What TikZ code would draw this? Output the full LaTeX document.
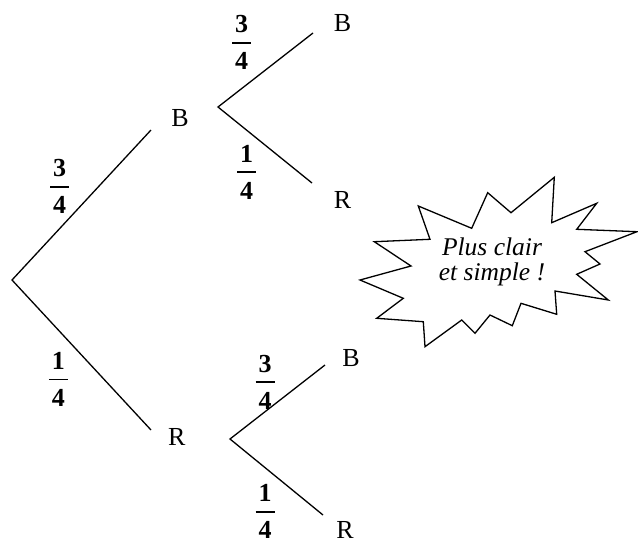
\documentclass[tikz,border=0pt]{standalone}
\usepackage{fontspec}
\setmainfont{Liberation Serif}
% bold stacked fraction: numerator, bar, denominator
\newcommand\prob[2]{\vbox{\hbox to 19pt{\hss\textbf{#1}\hss}\kern9pt\hrule height 1.8pt\kern9pt\hbox to 19pt{\hss\textbf{#2}\hss}}}
\begin{document}
\begin{tikzpicture}[x=1pt,y=-1pt,
  branch/.style={line width=1.3pt},
  outcome/.style={inner sep=0pt,font=\fontsize{26}{31}\selectfont},
  proba/.style={inner sep=0pt,font=\fontsize{26}{31}\selectfont},
  burst/.style={draw,line width=1.3pt,line join=miter,fill=white},
  bursttext/.style={inner sep=0pt,align=center,font=\fontsize{25.5}{24.5}\selectfont\itshape}]
\useasboundingbox (0,0) rectangle (638,541);

% branch points and branch ends
\coordinate (root) at (12,280);
\coordinate (jB) at (218,107);
\coordinate (jR) at (230,439);
\coordinate (eB) at (151,130);
\coordinate (eR) at (151,430);
\coordinate (eBB) at (313,33);
\coordinate (eBR) at (312,183);
\coordinate (eRB) at (325,365);
\coordinate (eRR) at (323,515);

% first draw
\draw[branch] (eB) -- (root) -- (eR);
% second draw
\draw[branch] (eBB) -- (jB) -- (eBR);
\draw[branch] (eRB) -- (jR) -- (eRR);

% outcomes
\node[outcome] (B1) at (180,118) {B};
\node[outcome] (R1) at (176.7,437) {R};
\node[outcome] (BB) at (342.5,23.5) {B};
\node[outcome] (BR) at (342.5,200) {R};
\node[outcome] (RB) at (351,358) {B};
\node[outcome] (RR) at (345,529.5) {R};

% probabilities
\node[proba] (p1) at (59.7,186.7) {\prob{3}{4}};
\node[proba] (p2) at (58.3,379.5) {\prob{1}{4}};
\node[proba] (p3) at (241.7,42.7) {\prob{3}{4}};
\node[proba] (p4) at (246.5,172) {\prob{1}{4}};
\node[proba] (p5) at (265,382) {\prob{3}{4}};
\node[proba] (p6) at (265,511.7) {\prob{1}{4}};

% callout burst
\draw[burst] (374.3,241.7) -- (430,239.3) -- (418.3,206) -- (471.7,228.3)
  -- (487.7,192.7) -- (511,212.7) -- (554.3,177.3) -- (551.7,222.7)
  -- (596.7,203.3) -- (576.7,229.3) -- (637,231.7) -- (585,251.7)
  -- (600,264) -- (576.7,274.3) -- (608.3,300) -- (555,291)
  -- (556.7,314.3) -- (521,303.3) -- (512.3,325.7) -- (490,315)
  -- (475,333.3) -- (461.7,320) -- (425,346.7) -- (423.3,321.7)
  -- (376.7,318.3) -- (403.3,298.3) -- (360,280) -- (411,266) -- cycle;
\node[bursttext] (msg) at (492,262) {Plus clair\\et simple !};
\end{tikzpicture}
\end{document}
